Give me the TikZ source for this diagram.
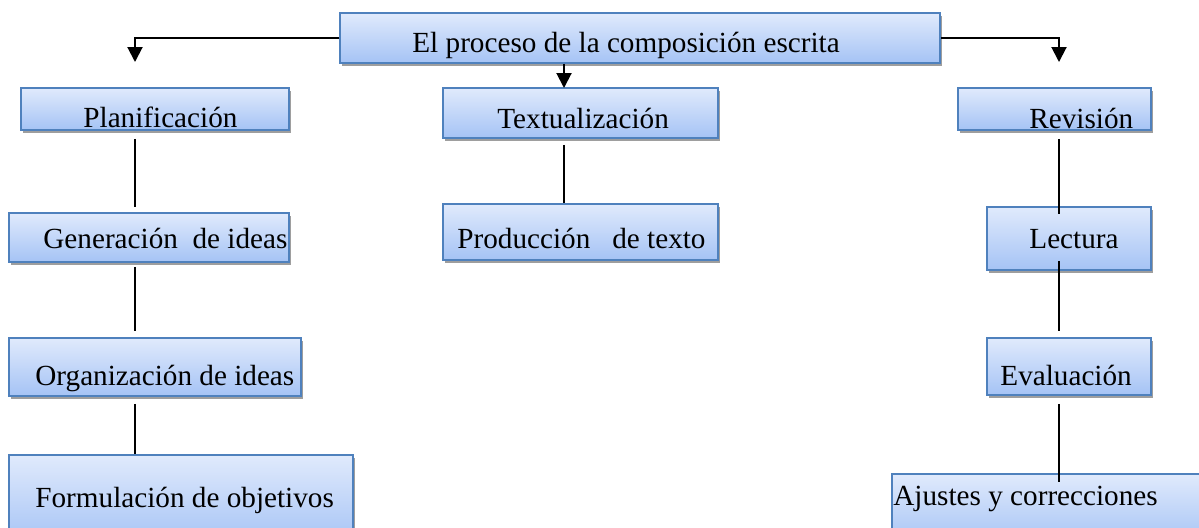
\documentclass[tikz,border=0pt]{standalone}
\usepackage{fontspec}
\setmainfont{Liberation Serif}
\usetikzlibrary{arrows.meta, fit, shadows}

\definecolor{cajaborde}{RGB}{79,129,189}
\definecolor{cajaarriba}{RGB}{224,234,252}
\definecolor{cajaabajo}{RGB}{165,195,245}
\definecolor{sombra}{RGB}{158,158,158}

\tikzset{
  caja/.style={rectangle, draw=cajaborde, line width=0.75pt, inner sep=0pt,
    top color=cajaarriba, bottom color=cajaabajo,
    drop shadow={shadow xshift=1.2pt, shadow yshift=-1.3pt, fill=sombra, opacity=1}},
  texto/.style={anchor=base west, inner sep=0pt, font=\fontsize{14.6pt}{17pt}\selectfont},
  linea/.style={line width=1pt},
  flecha/.style={line width=1pt, -{Triangle[width=7.5pt,length=7.5pt]}}
}

\begin{document}
\begin{tikzpicture}[x=0.5pt, y=-0.5pt]
  % Marco
  \useasboundingbox (0,0) rectangle (1199,527);
  \clip (0,0) rectangle (1199,527);

  % Titulo
  \node[caja, fit={(340,13) (940,63)}] (proceso) {};
  \node[texto] (proceso-t) at (412,52) {El proceso de la composición escrita};

  % Planificacion
  \node[caja, fit={(21,88) (289,130)}] (plan) {};
  \node[texto] (plan-t) at (83,127) {Planificación};
  \node[caja, fit={(9,213) (289,262)}] (gen) {};
  \node[texto] (gen-t) at (43,248) {Generación\ \ de ideas};
  \node[caja, fit={(9,338) (301,396)}] (org) {};
  \node[texto] (org-t) at (35,385) {Organización de ideas};
  \node[caja, fit={(9,455) (353,545)}] (form) {};
  \node[texto] (form-t) at (35,507) {Formulación de objetivos};

  % Textualizacion
  \node[caja, fit={(443,88) (718,138)}] (textu) {};
  \node[texto] (textu-t) at (497,128) {Textualización};
  \node[caja, fit={(443,204) (718,260)}] (prod) {};
  \node[texto] (prod-t) at (457,248) {Producción\ \ \ de texto};

  % Revision
  \node[caja, fit={(958,88) (1151,130)}] (rev) {};
  \node[texto] (rev-t) at (1029,128) {Revisión};
  \node[caja, fit={(987,207) (1151,270)}] (lect) {};
  \node[texto] (lect-t) at (1029,248) {Lectura};
  \node[caja, fit={(987,338) (1151,395)}] (eval) {};
  \node[texto] (eval-t) at (1000,385) {Evaluación};
  \node[caja, fit={(892,474) (1220,545)}] (ajus) {};
  \node[texto] (ajus-t) at (893,505) {Ajustes y correcciones};

  % Flechas
  \coordinate (pa) at (135,62);
  \coordinate (ta) at (564,88);
  \coordinate (ra) at (1059,62);
  \draw[flecha] (proceso.west) -| (pa);
  \draw[flecha] (proceso.south -| ta) -- (ta);
  \draw[flecha] (proceso.east) -| (ra);

  % Lineas
  \draw[linea, shorten <=4pt, shorten >=2.5pt] (plan.south -| pa) -- (gen.north -| pa);
  \draw[linea, shorten <=2pt, shorten >=3pt] (gen.south -| pa) -- (org.north -| pa);
  \draw[linea, shorten <=3.5pt] (org.south -| pa) -- (form.north -| pa);
  \draw[linea, shorten <=3pt] (textu.south -| ta) -- (prod.north -| ta);
  \draw[linea, shorten <=4pt, shorten >=-4pt] (rev.south -| ra) -- (lect.north -| ra);
  \draw[linea, shorten <=-5pt, shorten >=3pt] (lect.south -| ra) -- (eval.north -| ra);
  \draw[linea, shorten <=4pt, shorten >=-4.5pt] (eval.south -| ra) -- (ajus.north -| ra);
\end{tikzpicture}
\end{document}
